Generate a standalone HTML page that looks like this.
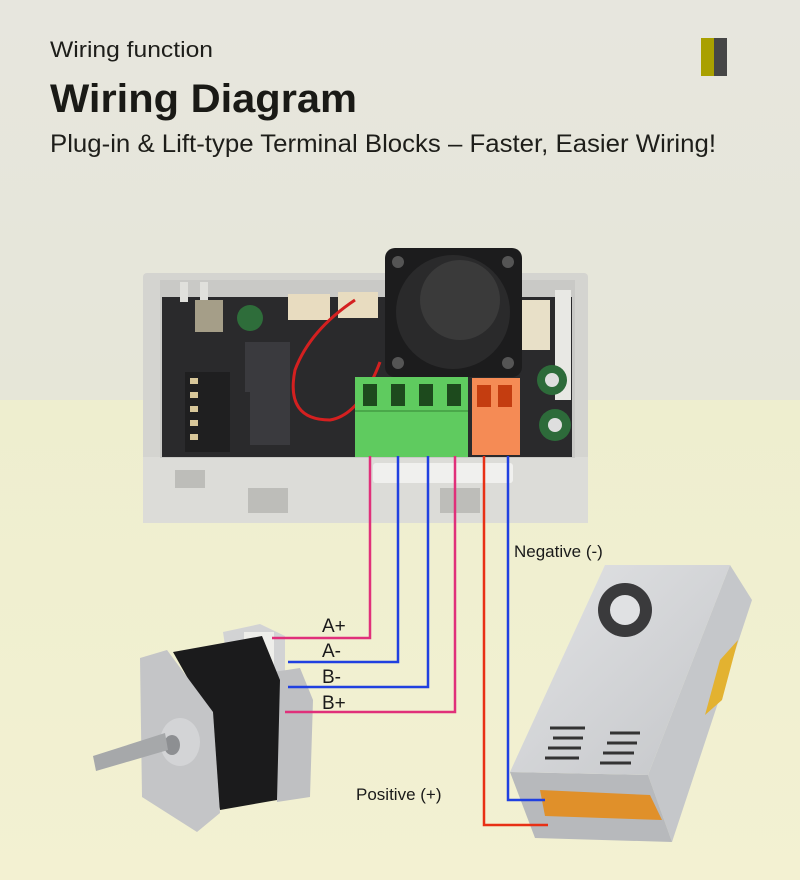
<!DOCTYPE html>
<html><head><meta charset="utf-8"><style>
html,body{margin:0;padding:0;width:800px;height:880px;overflow:hidden}
svg{display:block}
text{font-family:"Liberation Sans",sans-serif}
</style></head><body>
<svg width="800" height="880" viewBox="0 0 800 880" xmlns="http://www.w3.org/2000/svg">
<defs>
<linearGradient id="bg" x1="0" y1="0" x2="0" y2="1">
<stop offset="0" stop-color="#e7e6de"/><stop offset="1" stop-color="#e6e6d8"/></linearGradient>
<linearGradient id="fl" x1="0" y1="0" x2="0" y2="1">
<stop offset="0" stop-color="#eeeecf"/><stop offset="1" stop-color="#f3f1d2"/></linearGradient>
<linearGradient id="ps" x1="0" y1="0" x2="1" y2="1">
<stop offset="0" stop-color="#e2e3e5"/><stop offset="1" stop-color="#c4c6c9"/></linearGradient>
</defs>
<rect width="800" height="400" fill="url(#bg)"/>
<rect y="400" width="800" height="480" fill="url(#fl)"/>

<text x="50" y="57" font-size="22" fill="#1e1e1a" textLength="163" lengthAdjust="spacingAndGlyphs">Wiring function</text>
<text x="50" y="112" font-size="40" font-weight="bold" fill="#1a1a16" textLength="307" lengthAdjust="spacingAndGlyphs">Wiring Diagram</text>
<text x="50" y="152" font-size="25" fill="#1e1e1a" textLength="666" lengthAdjust="spacingAndGlyphs">Plug-in &amp; Lift-type Terminal Blocks – Faster, Easier Wiring!</text>
<rect x="701" y="38" width="13" height="38" fill="#a9a000"/>
<rect x="714" y="38" width="13" height="38" fill="#464646"/>

<!-- controller enclosure -->
<rect x="143" y="273" width="445" height="250" rx="4" fill="#d4d4d0"/>
<rect x="143" y="457" width="445" height="66" fill="#dcdcd8"/>
<rect x="160" y="280" width="415" height="178" fill="#c9c9c6"/>
<rect x="162" y="297" width="410" height="160" fill="#2a2a2c"/>
<rect x="180" y="282" width="8" height="20" fill="#e0e0dc"/>
<rect x="200" y="282" width="8" height="20" fill="#e0e0dc"/>
<rect x="195" y="300" width="28" height="32" fill="#a59e88"/>
<circle cx="250" cy="318" r="13" fill="#2e6d3a"/>
<rect x="288" y="294" width="42" height="26" fill="#e8dcc0"/>
<rect x="338" y="292" width="40" height="26" fill="#e8dcc0"/>
<rect x="522" y="300" width="28" height="50" fill="#e8e0c8"/>
<rect x="555" y="290" width="16" height="110" fill="#e8e8e4"/>
<rect x="185" y="372" width="45" height="80" fill="#1f1f20"/>
<g fill="#d8c79a"><rect x="190" y="378" width="8" height="6"/><rect x="190" y="392" width="8" height="6"/><rect x="190" y="406" width="8" height="6"/><rect x="190" y="420" width="8" height="6"/><rect x="190" y="434" width="8" height="6"/></g>
<rect x="245" y="342" width="45" height="50" fill="#3a3a3e"/>
<rect x="250" y="385" width="40" height="60" fill="#3a3a3e"/>
<circle cx="552" cy="380" r="15" fill="#2d6b3a"/>
<circle cx="552" cy="380" r="7" fill="#dedede"/>
<circle cx="555" cy="425" r="16" fill="#2d6b3a"/>
<circle cx="555" cy="425" r="7" fill="#dedede"/>
<path d="M355 300 Q310 330 295 370 Q285 420 330 420 Q360 415 380 362" fill="none" stroke="#d42020" stroke-width="3"/>
<rect x="175" y="470" width="30" height="18" fill="#bdbdb9"/>
<rect x="248" y="488" width="40" height="25" fill="#bdbdb9"/>
<rect x="440" y="488" width="40" height="25" fill="#bdbdb9"/>
<!-- fan -->
<rect x="385" y="248" width="137" height="129" rx="10" fill="#1c1c1d"/>
<circle cx="453" cy="312" r="57" fill="#2a2a2b"/>
<circle cx="460" cy="300" r="40" fill="#3a3a3a"/>
<circle cx="398" cy="262" r="6" fill="#555"/><circle cx="508" cy="262" r="6" fill="#555"/><circle cx="398" cy="363" r="6" fill="#555"/><circle cx="508" cy="363" r="6" fill="#555"/>
<!-- terminals -->
<rect x="355" y="377" width="113" height="80" fill="#5fcb5f"/>
<rect x="355" y="410" width="113" height="2" fill="#4aa84a"/>
<rect x="363" y="384" width="14" height="22" fill="#1d4a1d"/>
<rect x="391" y="384" width="14" height="22" fill="#1d4a1d"/>
<rect x="419" y="384" width="14" height="22" fill="#1d4a1d"/>
<rect x="447" y="384" width="14" height="22" fill="#1d4a1d"/>
<rect x="472" y="378" width="48" height="77" fill="#f58b55"/>
<rect x="477" y="385" width="14" height="22" fill="#c43d10"/>
<rect x="498" y="385" width="14" height="22" fill="#c43d10"/>
<rect x="373" y="463" width="140" height="20" rx="3" fill="#f0f0ee"/>

<!-- motor -->
<path d="M223 632 L260 624 L285 636 L285 677 L230 680 Z" fill="#d2d3d4"/>
<rect x="244" y="632" width="30" height="42" fill="#eeeeea"/>
<path d="M267 673 L300 668 L313 700 L310 797 L277 802 Z" fill="#bfc0c2"/>
<path d="M173 652 L262 636 L280 680 L277 800 L220 810 L200 700 Z" fill="#1b1b1c"/>
<path d="M140 658 L167 650 L213 712 L220 813 L197 832 L142 797 Z" fill="#c4c5c7"/>
<ellipse cx="180" cy="742" rx="20" ry="24" fill="#d3d4d6"/>
<ellipse cx="172" cy="745" rx="8" ry="10" fill="#8d8f92"/>
<path d="M93 756 L165 733 L168 750 L96 771 Z" fill="#a6a8aa"/>

<!-- power supply -->
<path d="M730 565 L752 600 L672 842 L648 775 Z" fill="#c5c7ca"/>
<path d="M510 772 L648 775 L672 842 L535 838 Z" fill="#b7b9bc"/>
<path d="M540 790 L650 795 L662 820 L545 816 Z" fill="#e0902a"/>
<path d="M605 565 L730 565 L648 775 L510 772 Z" fill="url(#ps)"/>
<path d="M720 660 L738 640 L722 700 L705 715 Z" fill="#e3b230"/>
<circle cx="625" cy="610" r="27" fill="#3a3a3c"/>
<circle cx="625" cy="610" r="15" fill="#e0e1e3"/>
<g stroke="#333" stroke-width="3">
<path d="M550 728 H585 M553 738 H583 M548 748 H581 M545 758 H579"/>
<path d="M610 733 H640 M607 743 H637 M603 753 H634 M600 763 H631"/>
</g>

<!-- wires -->
<g fill="none" stroke-width="2.5">
<path d="M370 456 V638 H272" stroke="#e0307a"/>
<path d="M398 456 V662 H288" stroke="#2040e0"/>
<path d="M428 456 V687 H288" stroke="#2040e0"/>
<path d="M455 456 V712 H285" stroke="#e0307a"/>
<path d="M484 456 V825 H548" stroke="#e83015"/>
<path d="M508 456 V800 H545" stroke="#2040e0"/>
</g>
<g font-size="19" fill="#1a1a1a">
<text x="322" y="632">A+</text>
<text x="322" y="657">A-</text>
<text x="322" y="683">B-</text>
<text x="322" y="709">B+</text>
<text x="514" y="557" font-size="17">Negative (-)</text>
<text x="356" y="800" font-size="17">Positive (+)</text>
</g>
</svg>
</body></html>
